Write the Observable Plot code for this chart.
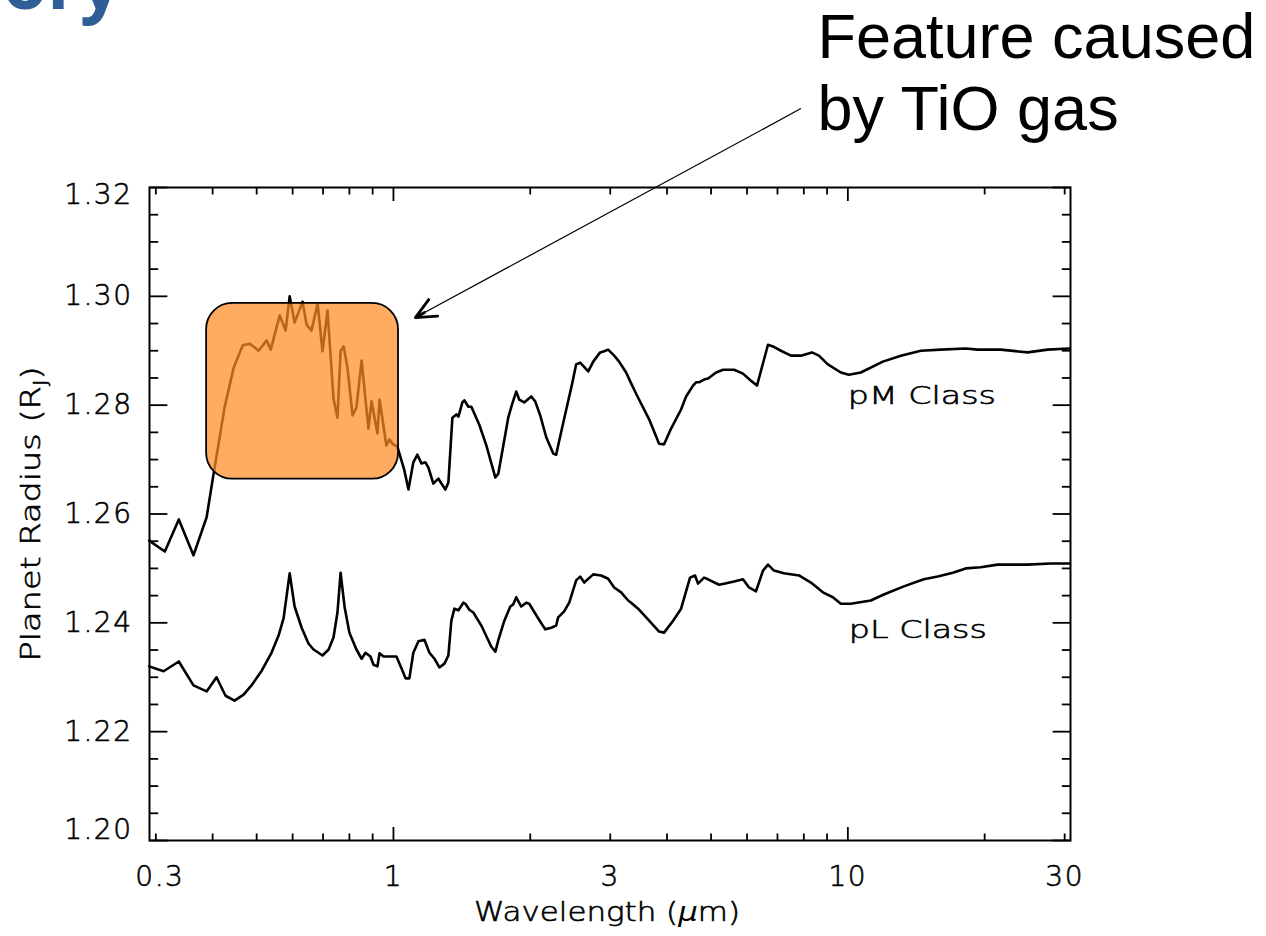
<!DOCTYPE html>
<html>
<head>
<meta charset="utf-8">
<script src="https://cdn.jsdelivr.net/npm/d3@7"></script>
<script src="https://cdn.jsdelivr.net/npm/@observablehq/plot@0.6"></script>
<style>
  body { margin: 0; background: #fff; }
  #wrap { position: relative; width: 1266px; height: 936px; overflow: hidden; }
  #heading { position: absolute; left: 0; top: 0; }
  g[aria-label="y-axis tick label"] text,
  g[aria-label="x-axis tick label"] text { letter-spacing: 1.5px; }
  g[aria-label="y-axis tick label"] text,
  g[aria-label="x-axis tick label"] text,
  text.vector-font { stroke: black; stroke-width: 0.6px; }
  text.vector-font tspan.greek { stroke-width: 0; }
</style>
</head>
<body>
<div id="wrap">
  <div id="chart"></div>
  <svg id="heading" width="300" height="40">
    <text x="121" y="9" text-anchor="end" font-family="'Open Sans', sans-serif" font-weight="700" font-size="72" fill="#2F5D97">Theory</text>
  </svg>
</div>
<script>
// Transmission-spectrum radius of a hot Jupiter, pM and pL atmosphere classes
const wavelengthPM = [0.290,0.314,0.337,0.363,0.388,0.402,0.425,0.445,0.466,0.483,
  0.505,0.526,0.537,0.562,0.579,0.591,0.606,0.631,0.644,0.660,
  0.681,0.698,0.716,0.738,0.753,0.765,0.777,0.792,0.813,0.829,
  0.851,0.881,0.895,0.922,0.932,0.965,0.980,0.995,1.020,1.057,
  1.079,1.106,1.129,1.152,1.176,1.194,1.224,1.256,1.275,1.301,
  1.321,1.348,1.376,1.390,1.418,1.432,1.462,1.484,1.545,1.601,
  1.676,1.701,1.745,1.789,1.826,1.863,1.892,1.940,2.010,2.051,
  2.104,2.169,2.247,2.281,2.304,2.375,2.474,2.524,2.576,2.683,
  2.752,2.850,2.909,2.968,3.060,3.138,3.251,3.335,3.420,3.653,
  3.842,3.941,4.083,4.295,4.406,4.563,4.633,4.704,4.825,4.924,
  5.128,5.313,5.617,5.878,6.121,6.310,6.671,6.842,7.124,7.494,
  7.884,8.334,8.636,9.036,9.652,10.05,10.68,11.94,13.08,14.47,
  16.01,18.17,19.31,21.70,24.87,27.52,30.75];
const radiusPM = [1.2551,1.2531,1.2590,1.2524,1.2594,1.2674,1.2796,1.2869,1.2910,1.2913,
  1.2900,1.2919,1.2902,1.2965,1.2937,1.3000,1.2952,1.2990,1.2948,1.2937,
  1.2987,1.2899,1.2974,1.2812,1.2777,1.2900,1.2908,1.2869,1.2781,1.2796,
  1.2882,1.2757,1.2807,1.2748,1.2810,1.2726,1.2737,1.2729,1.2724,1.2680,
  1.2645,1.2695,1.2709,1.2693,1.2695,1.2685,1.2656,1.2665,1.2656,1.2645,
  1.2658,1.2777,1.2783,1.2779,1.2805,1.2809,1.2797,1.2797,1.2764,1.2726,
  1.2667,1.2674,1.2726,1.2777,1.2803,1.2825,1.2810,1.2805,1.2816,1.2807,
  1.2781,1.2741,1.2711,1.2709,1.2726,1.2775,1.2840,1.2875,1.2878,1.2862,
  1.2880,1.2897,1.2899,1.2902,1.2891,1.2880,1.2860,1.2840,1.2821,1.2774,
  1.2729,1.2728,1.2757,1.2792,1.2816,1.2836,1.2842,1.2842,1.2847,1.2849,
  1.2860,1.2865,1.2865,1.2858,1.2845,1.2836,1.2911,1.2908,1.2900,1.2891,
  1.2891,1.2897,1.2891,1.2875,1.2860,1.2856,1.2860,1.2880,1.2891,1.2900,
  1.2902,1.2904,1.2902,1.2902,1.2897,1.2902,1.2904];

const wavelengthPL = [0.290,0.312,0.337,0.363,0.388,0.408,0.427,0.447,0.468,0.487,
  0.513,0.539,0.559,0.573,0.591,0.606,0.628,0.650,0.667,0.684,
  0.698,0.720,0.738,0.753,0.765,0.781,0.800,0.829,0.851,0.868,
  0.890,0.904,0.922,0.932,0.951,1.015,1.047,1.063,1.084,1.106,
  1.135,1.170,1.200,1.231,1.262,1.295,1.321,1.341,1.362,1.390,
  1.425,1.440,1.469,1.499,1.561,1.642,1.676,1.701,1.754,1.808,
  1.835,1.863,1.911,1.960,1.990,2.083,2.158,2.225,2.281,2.304,
  2.375,2.437,2.524,2.576,2.629,2.752,2.865,2.968,3.060,3.170,
  3.285,3.335,3.455,3.653,3.842,3.941,4.125,4.295,4.495,4.610,
  4.681,4.825,4.924,5.206,5.340,5.617,5.878,6.059,6.278,6.505,
  6.671,6.877,7.232,7.805,8.292,8.811,9.268,9.652,10.15,11.23,
  12.00,13.28,14.69,15.77,17.02,18.17,19.60,21.37,24.87,27.94,30.75];
const radiusPL = [1.2320,1.2311,1.2329,1.2285,1.2274,1.2300,1.2266,1.2257,1.2268,1.2285,
  1.2312,1.2345,1.2377,1.2408,1.2491,1.2430,1.2391,1.2362,1.2351,1.2345,
  1.2340,1.2351,1.2373,1.2419,1.2492,1.2428,1.2382,1.2351,1.2334,1.2345,
  1.2338,1.2323,1.2320,1.2344,1.2338,1.2338,1.2312,1.2298,1.2298,1.2345,
  1.2366,1.2369,1.2345,1.2334,1.2318,1.2325,1.2340,1.2404,1.2426,1.2423,
  1.2437,1.2435,1.2424,1.2419,1.2395,1.2356,1.2347,1.2368,1.2404,1.2430,
  1.2434,1.2447,1.2430,1.2437,1.2435,1.2408,1.2388,1.2391,1.2395,1.2410,
  1.2421,1.2437,1.2478,1.2485,1.2474,1.2489,1.2487,1.2481,1.2465,1.2456,
  1.2441,1.2437,1.2426,1.2404,1.2384,1.2382,1.2404,1.2426,1.2483,1.2487,
  1.2472,1.2483,1.2480,1.2470,1.2472,1.2476,1.2480,1.2465,1.2458,1.2496,
  1.2507,1.2496,1.2491,1.2487,1.2474,1.2456,1.2447,1.2435,1.2435,1.2441,
  1.2452,1.2467,1.2480,1.2485,1.2492,1.2500,1.2502,1.2507,1.2507,1.2509,1.2509];

// Axis extents and tick values
const xDomain = [0.2905, 30.9];
const yDomain = [1.20, 1.32];
const xMajorTicks = [1, 10];
const xMinorTicks = [0.3, 0.4, 0.5, 0.6, 0.7, 0.8, 0.9, 2, 3, 4, 5, 6, 7, 8, 9, 20, 30];
const xTickLabels = [1, 3, 10, 30];
const xFirstLabel = [0.3];
const yMajorTicks = [1.20, 1.22, 1.24, 1.26, 1.28, 1.30, 1.32];
const yInnerLabels = [1.22, 1.24, 1.26, 1.28, 1.30];
const yTopLabel = [1.32];
const yBottomLabel = [1.20];
const yMinorTicks = [1.205, 1.21, 1.215, 1.225, 1.23, 1.235, 1.245, 1.25, 1.255,
  1.265, 1.27, 1.275, 1.285, 1.29, 1.295, 1.305, 1.31, 1.315];

// Titles
const yTitleText = "Planet Radius (RJ)";
const xTitleText = "Wavelength (μm)";

// Series labels, placed at a wavelength / radius
const classNames = ["pM Class", "pL Class"];
const classLabelX = [10.0, 10.05];
const classLabelY = [1.2816, 1.2386];

// Highlighted TiO band and the callout pointing at it
const tioBand = {wMin: 0.388, wMax: 1.026, rMin: 1.2664, rMax: 1.2987};
const calloutFrom = {w: 7.884, r: 1.3345};
const calloutTo = {w: 1.1176, r: 1.2961};
const calloutText = "Feature caused\nby TiO gas";

const pM = wavelengthPM.map((w, i) => ({w, r: radiusPM[i]}));
const pL = wavelengthPL.map((w, i) => ({w, r: radiusPL[i]}));
const classLabels = classNames.map((name, i) => ({name, w: classLabelX[i], r: classLabelY[i]}));

const axisFont = "'DejaVu Sans', sans-serif";
const tickMarks = (axis, anchor, ticks, size) =>
  axis({anchor, ticks, tickSize: -size, tickFormat: () => "", label: null, stroke: "black", strokeWidth: 1.8});
const labelFont = {fontSize: 28, fontWeight: 200, fill: "black", label: null};
const yLabels = (ticks, dy) =>
  Plot.axisY({anchor: "left", ticks, tickSize: 0, tickPadding: 17, dy,
    tickFormat: d3.format(".2f"), ...labelFont});
const xLabels = (ticks, dx) =>
  Plot.axisX({anchor: "bottom", ticks, tickSize: 0, tickPadding: 26, dx,
    tickFormat: (d) => String(d), ...labelFont});

const chart = Plot.plot({
  width: 1266,
  height: 936,
  marginLeft: 149,
  marginRight: 196,
  marginTop: 187,
  marginBottom: 96,
  style: {fontFamily: axisFont, background: "white", overflow: "visible", color: "black"},
  x: {type: "log", domain: xDomain},
  y: {domain: yDomain},
  marks: [
    Plot.line(pM, {x: "w", y: "r", stroke: "black", strokeWidth: 2.6}),
    Plot.line(pL, {x: "w", y: "r", stroke: "black", strokeWidth: 2.6}),
    Plot.rect([tioBand], {x1: "wMin", x2: "wMax", y1: "rMin", y2: "rMax", rx: 26,
      fill: "#FF8A22", fillOpacity: 0.72, stroke: "black", strokeWidth: 1.8}),
    Plot.frame({stroke: "black", strokeWidth: 2}),
    tickMarks(Plot.axisX, "bottom", xMajorTicks, 13),
    tickMarks(Plot.axisX, "bottom", xMinorTicks, 6.5),
    tickMarks(Plot.axisX, "top", xMajorTicks, 13),
    tickMarks(Plot.axisX, "top", xMinorTicks, 6.5),
    tickMarks(Plot.axisY, "left", yMajorTicks, 18.4),
    tickMarks(Plot.axisY, "left", yMinorTicks, 9.2),
    tickMarks(Plot.axisY, "right", yMajorTicks, 18.4),
    tickMarks(Plot.axisY, "right", yMinorTicks, 9.2),
    xLabels(xTickLabels, 0),
    xLabels(xFirstLabel, 4),
    yLabels(yInnerLabels, 0),
    yLabels(yTopLabel, 8),
    yLabels(yBottomLabel, -10),
    Plot.text(classLabels, {x: "w", y: "r", text: "name", textAnchor: "start",
      fontSize: 25, fontWeight: 200, fill: "black"}),
    Plot.text([yTitleText], {text: (d) => d, frameAnchor: "left", dx: -118, rotate: -90,
      textAnchor: "middle", fontSize: 26, fontWeight: 200, fill: "black"}),
    Plot.text([xTitleText], {text: (d) => d, frameAnchor: "bottom", dx: -3, dy: 80,
      textAnchor: "middle", fontSize: 26, fontWeight: 200, fill: "black"}),
    Plot.link([0], {x1: () => calloutFrom.w, y1: () => calloutFrom.r, x2: () => calloutTo.w, y2: () => calloutTo.r,
      stroke: "black", strokeWidth: 1.2}),
    Plot.arrow([0], {x1: () => calloutFrom.w, y1: () => calloutFrom.r, x2: () => calloutTo.w, y2: () => calloutTo.r,
      stroke: "black", strokeWidth: 2.8, headLength: 12, headAngle: 50, insetStart: 428}),
    Plot.text([calloutText], {text: (d) => d, frameAnchor: "top-left", dx: 668, dy: -181,
      lineAnchor: "top", lineHeight: 1.15, textAnchor: "start", fill: "black",
      fontFamily: "'Liberation Sans', Arial, sans-serif", fontSize: 63})
  ]
});

const svgNS = "http://www.w3.org/2000/svg";
const span = (text, attrs = {}) => {
  const t = document.createElementNS(svgNS, "tspan");
  t.textContent = text;
  for (const [k, v] of Object.entries(attrs)) t.setAttribute(k, v);
  return t;
};
const stretch = (t, width) => {
  t.setAttribute("textLength", width);
  t.setAttribute("lengthAdjust", "spacingAndGlyphs");
};

// The plotting font draws wide glyphs: stretch the titles and series labels to that width,
// set the J of the radius unit as a subscript and the mu of the wavelength unit in italic
const classWidths = {"pM Class": 148, "pL Class": 138};
chart.querySelectorAll("text").forEach((t) => {
  const s = t.textContent;
  if (s === yTitleText) {
    t.textContent = "";
    t.append(span("Planet Radius (R"), span("J", {dy: 6, "font-size": 17}), span(")", {dy: -6}));
    stretch(t, 295);
    t.classList.add("vector-font");
  } else if (s === xTitleText) {
    t.textContent = "";
    t.append(span("Wavelength ("), span("μ", {"font-style": "italic", class: "greek"}), span("m)"));
    stretch(t, 266);
    t.classList.add("vector-font");
  } else if (s in classWidths) {
    stretch(t, classWidths[s]);
    t.classList.add("vector-font");
  }
});

document.getElementById("chart").append(chart);
</script>
</body>
</html>
